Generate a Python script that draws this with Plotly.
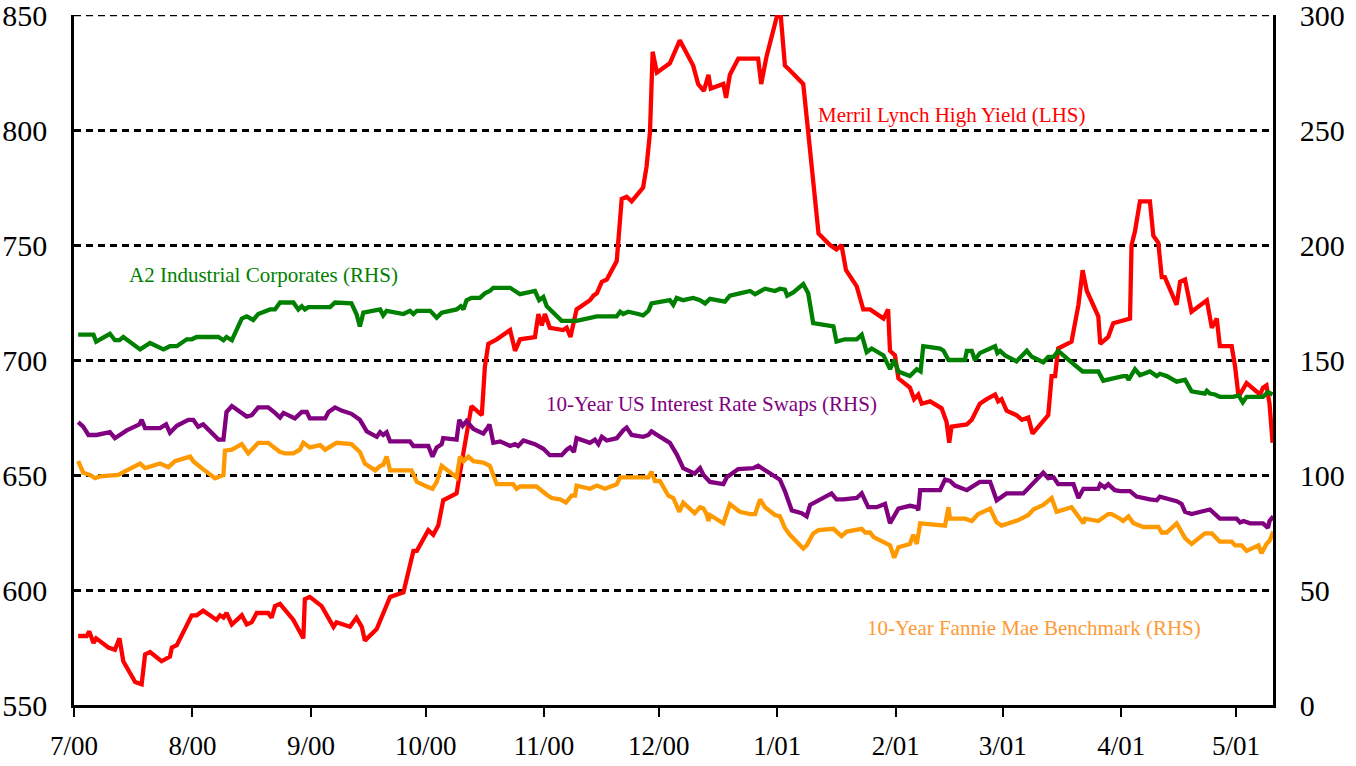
import pandas as pd
import plotly.graph_objects as go

# ---------------- data (days since 2000-07-01, values) ----------------
BASE_DATE = "2000-07-01"

hy_days = [1.1, 3.3, 4, 5.1, 5.8, 9, 10.7, 11.9, 12.9, 16, 17.7, 18.6, 19.9, 22.9, 25.1, 25.6, 26.9, 30.8, 32.1, 33.8,
           37.3, 38.2, 39.1, 39.9, 41.3, 43.9, 45.2, 46.5, 47.8, 50.8, 51.7, 52.6, 53.9,
           57.4, 60, 60.4, 61.7, 64.8, 67.9, 68.7, 72.2, 73.9, 75.3, 76.1, 79.2, 80.9, 82.7, 86.2, 87, 88.8, 89.7, 92.7, 94,
           95.3, 96.6, 100.1, 101.4, 102.7, 104, 106.7, 107.5, 108.4,
           110.6, 114.1, 115.4, 116.7, 120.6, 121.5, 122.4, 123.2, 124.5, 128, 128.9, 129.9, 131.5, 135, 135.9, 136.8, 138.1,
           139.4, 142, 143.3, 144.6, 145.9, 148.9, 149.8, 150.7, 151.4, 152.5, 155.9, 158.5, 162, 163.3,
           163.8, 164.8, 166, 166.6, 169.9, 170.6, 171.6, 173.8, 179, 179.8, 181.2, 184, 184.9, 186, 187.3, 190.8, 192.1,
           193.4, 194.8, 197.8, 199.5, 200.8, 202, 204.8, 206.5, 208.3, 211.8, 213, 213.5, 214.8, 215.7, 218.7,
           219.8, 220.9, 221.8, 224, 227, 228.3, 229, 229.6, 233.6, 234.9, 237, 238.8, 241, 241.8, 242.7, 244, 246.6, 248,
           249.7, 250.8, 252.7, 254.9, 255.8, 256.7, 257.5, 261, 262.8, 263.9, 265, 268, 268.5, 270.6, 271.9, 273.7,
           274.5, 276.3, 276.7, 277.6, 278.9, 281.5, 282.4, 283.7, 284.6, 285.4, 288.5, 289.4, 290.7, 292.4, 296.4, 297.7,
           299, 299.8, 302.9, 303.8, 304.7, 306.8, 310.3, 311.1, 312, 312.8, 313.6]
hy_vals = [580, 580, 582, 577, 579, 575, 574, 579, 569, 560, 559, 572, 573, 569, 571, 575, 576, 589, 589, 591,
           587, 589, 588, 590, 585, 589, 585, 586, 590, 590, 588, 593, 594,
           587, 579, 596, 597, 593, 584, 586, 584, 588, 584, 578, 583, 590, 597, 599, 604, 617, 617, 626, 624,
           628, 639, 642, 655, 668, 680, 676, 697, 707,
           709, 713, 704, 709, 710, 720, 715, 720, 714, 713, 714, 710, 722, 726, 728, 729, 734,
           735, 743, 770, 771, 769, 775, 784, 799, 834, 825, 829, 839, 828, 820,
           819, 817, 824, 818, 820, 814, 824, 831, 831, 820, 832, 850, 850, 828, 826, 820, 799,
           779, 755, 750, 748, 750, 739, 732, 722, 722, 718, 722, 704, 702, 692, 688,
           683, 685, 681, 682, 679, 673, 664, 671, 672, 674, 681, 683, 685, 682, 683, 678, 676, 674,
           675, 668, 672, 676, 693, 693, 705, 708, 724, 739, 730, 719, 707, 710, 716, 717,
           717, 718, 750, 756, 769, 769, 754, 751, 736, 736, 724, 734, 735, 721, 726, 714,
           718, 706, 706, 697, 684, 690, 685, 688, 689, 681, 664]

a2_days = [1.1, 5.1, 5.8, 9.4, 10.7, 11.9, 12.9, 17.3, 19.9, 23.4, 25.1, 26.9, 29.5, 30.8, 32.1, 37.8, 39.1, 39.9, 41.3,
           43.9, 45.2, 46.9, 48.2, 51.3, 52.6, 53.9,
           55.2, 57.4, 58.7, 59.6, 60.4, 61.3, 67, 68.3, 72.6, 73.9, 74.8, 75.7, 80.1, 80.9, 81.8, 86.2, 87.9, 88.8, 89.7,
           93.2, 94.9, 96.2, 100.1, 101.2, 101.9, 102.7, 104, 106.2, 107.5, 108.8,
           109.7, 114.1, 116.7, 120.6, 121.7, 122.8, 123.7, 127.6, 131.5, 136.8, 142, 142.9, 143.7, 145, 147.6, 148.9,
           150.3, 151.1, 155.9, 156.8, 157.7, 159.4, 162, 163.8,
           165.1, 166.4, 170.3, 171.6, 174.2, 176.9, 178.2, 180.8, 183.4, 184.7, 186, 186.6, 188.2, 190.8, 192.1, 193.4,
           198.7, 199.5, 201.7, 204.8, 206.1, 207.4, 208.7, 211.8, 213.5, 214.6, 215.7, 218.7,
           220.5, 221.5, 222.2, 226.6, 227.5, 228.8, 233.1, 233.6, 234.9, 235.7, 237, 241, 241.6, 242.3, 243.6, 246.6,
           249.3, 250.6, 253.6, 254.9, 256.3, 257.5, 261, 263.9, 268, 269.3, 271.9, 273.7,
           274.5, 275.4, 275.9, 277.6, 278.9, 281.5, 283.3, 284.1, 285.9, 288.5, 290.7, 292.4, 295.9, 296.4, 297.2, 298.5,
           299.8, 303.3, 304.7, 305.8, 306.8, 311.1, 312.4, 313.6]
a2_vals = [161, 161, 158, 161.4, 158.6, 158.6, 160, 154.6, 157.4, 154.6, 156, 156, 159, 159, 160, 160, 158.6, 160, 158.6,
           168, 169, 167.4, 170, 172, 172, 175,
           175, 175, 172, 173.4, 172, 173, 173, 175, 174.6, 170, 164.6, 170.6, 172, 169.4, 171.4, 170, 171.4, 170, 171.4,
           171.4, 168.4, 170.6, 172, 173.4, 172, 176, 177, 177, 179, 180,
           181.4, 181.4, 178.6, 180, 176, 177.4, 173.4, 167, 167, 169, 169, 171, 170, 171, 170, 169.4,
           171.4, 174.6, 176, 174, 177, 176, 177, 176,
           174.6, 176.6, 175.4, 178, 179, 180, 178.6, 181, 180, 181, 180.6, 178, 179.4, 183, 179, 166,
           164.6, 158, 159, 159, 161, 153.4, 155, 152, 146, 150, 145, 143,
           146, 145, 156, 155, 154, 150, 150, 154, 154, 150, 153, 156, 153, 154, 152, 149.4,
           154, 151.4, 149, 151.4, 151.4, 154, 149, 145, 145, 141, 142, 143,
           143, 143, 141.4, 146, 143.4, 145, 143, 144, 143, 140.6, 141.4, 136.4, 135.4, 136.6, 135.4, 135,
           134, 134, 134.6, 131.6, 134, 134, 136, 135]

swap_days = [1.1, 2.4, 3.8, 5.9, 9.4, 10.7, 13.8, 17.1, 17.7, 18.6, 22.5, 24.1, 25.1, 26.9, 29.9, 31.2, 32.5, 33.8, 37.8,
             39.1, 39.9, 41.3, 45.2, 46.5, 48.2, 50.8, 52.6, 53.9,
             54.8, 57.8, 59.6, 60.9, 61.7, 65.7, 66.6, 68.3, 70, 72.6, 74.8, 76.6, 79.2, 80.1, 80.9, 81.8, 82.7, 87.9,
             88.8, 92.7, 93.8, 94.9, 96.2, 96.6, 100.1, 100.8, 101.7, 102.7, 104.5, 107.1, 108.4,
             108.7, 109.7, 111.5, 114.1, 115.4, 116.2, 117.6, 120.6, 122.8, 124.5, 127.6, 128.9, 129.8, 130.8, 131.5,
             135, 136.3, 137.2, 138.1, 139.4, 142, 143.7, 144.6, 145.9, 148.9, 150.3, 151.1, 152, 155.9, 157.7,
             159.4, 162.4, 163.8,
             164.7, 166.4, 169.9, 170.8, 173.8, 177.7, 179, 180, 183.4, 184.7, 186, 187.8, 190.4, 191.7, 192.6, 194.8,
             198.2, 199.5, 201.3, 204.8, 206.1, 207.8, 210, 212.2, 213.5, 215.7, 218.7,
             220.5, 220.9, 221.4, 226.6, 227.9, 229.2, 230.5, 233.6, 237, 239.7, 241.4, 242.3, 244, 248.4, 250.1, 253.6,
             254.9, 256.3, 257.5, 261.5, 262.8, 264.1, 268, 268.5, 269.7, 270.6, 272.3, 273.7,
             276.3, 278, 281.5, 283.3, 284.1, 285.4, 288.5, 289.8, 290.7, 292.4, 295.9, 297.2, 299.8, 304.2, 305.1, 306,
             307.7, 311.1, 312.4, 312.8, 313.8]
swap_vals = [123, 121, 117.4, 117.4, 118.6, 116, 119.4, 122, 124, 120.4, 120.4, 122, 118.4, 121.4, 124, 124, 121, 122, 115.4,
             115.4, 127.4, 130, 125.4, 126, 129.4, 129.4, 127, 125,
             127, 124.6, 127.4, 127.4, 124.6, 124.6, 127.4, 129.4, 128, 126.6, 124, 119, 116.6, 118.6, 117.4, 118.6, 114.6, 114.6,
             112.6, 112.6, 108, 112, 113.4, 116, 115.4, 124, 121.4, 123.4, 120, 118, 121,
             122, 114, 114.6, 112.6, 113.4, 112.6, 115, 113.4, 111.4, 108.6, 108.6, 111, 112, 110, 116,
             114, 115.4, 113.4, 116.6, 115, 116, 119.4, 120.6, 117.4, 116.6, 117.4, 119, 118, 114, 109,
             103, 100.6, 103,
             100, 97, 96, 99, 102.6, 103, 104, 103, 99.4, 98, 93, 84.6, 83.4, 82, 87, 89,
             92, 89.4, 89.4, 90, 92, 86, 86, 87.4, 79, 85.4, 86.6,
             86, 84.6, 93.4, 93.4, 98, 97.4, 95.4, 93.4, 97, 97, 89, 90, 92, 92, 95, 101,
             98.6, 99, 96, 96, 90, 94, 94, 96, 94.6, 96, 93.4, 93,
             93, 90.6, 89.4, 89, 90.6, 90, 88.6, 87.4, 84, 83, 84.6, 85, 81, 81, 79.4, 80,
             79, 79, 77, 80, 82]

fnma_days = [1.1, 2.4, 4.2, 5.5, 6.8, 11.6, 13.8, 17.3, 18.6, 20.3, 22.5, 24.7, 26.4, 30.4, 31.2, 33.4, 36.9, 39.1, 39.5,
             41.3, 43.9, 45.6, 48.2, 50.8, 52.6, 53.9,
             55.2, 57.4, 59.1, 60, 61.7, 64.4, 65.7, 68.7, 72.6, 74.8, 76.1, 78.8, 80.1, 80.9, 81.8, 82.7, 88.3, 89.7,
             92.3, 93.8, 94.9, 96.2, 100.1, 101, 101.9, 103.2, 104.5, 107.1, 108.8,
             110.6, 114.9, 115.8, 116.7, 121, 123.7, 125, 127.2, 128.7, 130.2, 131.1, 131.5, 135, 136.8, 138.9, 142,
             142.9, 150.3, 151.1, 152, 153.3, 155.5, 156.8, 158.4, 159.4, 162.4, 163.8,
             164.7, 165.5, 166, 166.4, 169.9, 171.6, 174.2, 176.9, 178.2, 179.5, 180.8, 183.4, 184.7, 186, 187.3, 190.8,
             191.7, 193.4, 194.8, 198.7, 200.8, 202.2, 206.1, 207, 208.3, 209.2, 213.5, 214.6, 215.7, 218.7,
             219.6, 220.5, 221.4, 226.6, 227.9, 228.8, 229.2, 233.1, 234.9, 236.6, 239.7, 241.4, 242.7, 247.1, 249.7, 251,
             253.6, 255.8, 257.1, 261, 264.1, 264.5, 268, 270.6, 271.5, 273.7,
             274.5, 275.9, 277.2, 279.8, 283.7, 284.6, 285.9, 288.5, 290.7, 292.4, 295.9, 297.7, 299.8, 302.9, 303.8, 305.5,
             306.8, 309.9, 310.7, 312, 312.8, 313.8]
fnma_vals = [106, 101, 100, 98.6, 99.4, 100, 102, 105, 103, 104, 105, 103.4, 106, 108, 106, 103, 98.6, 100, 110.6,
             111, 113.4, 109.4, 114, 114, 112, 110,
             109.4, 109.4, 111, 114, 112, 113, 111, 114, 113.4, 110, 105, 102, 104, 104.4, 108, 102, 102, 97,
             95, 94, 97, 104, 99, 108, 106, 108, 106, 105.4, 104,
             96, 96, 94, 95, 95, 91.4, 90, 89.4, 88, 91, 91, 95.4, 94, 95.4, 94, 96,
             99, 99, 101.4, 97.4, 97.4, 91, 90, 84, 88, 83.4, 86,
             85.4, 83, 80, 82.6, 79, 87.4, 84, 83, 83, 89.4, 86, 82.6, 82, 77, 74, 68,
             69.4, 74.6, 76, 76.6, 73.4, 75.4, 76.6, 75, 75, 73, 69.4, 64, 68.6, 70,
             74, 70, 79, 78, 78, 86, 81, 81, 80, 83, 85.4, 79.4, 78, 80.4, 82.6, 85,
             87, 90, 84, 86, 79, 81, 80, 83, 83, 81,
             80, 82, 79, 77.4, 77.4, 75, 75, 79, 72.6, 70, 74.6, 74.6, 71, 71, 69.4, 69.4,
             67, 69.4, 66, 70, 71.4, 75.4]

month_ticks = ["2000-07-01", "2000-08-01", "2000-09-01", "2000-10-01", "2000-11-01", "2000-12-01",
               "2001-01-01", "2001-02-01", "2001-03-01", "2001-04-01", "2001-05-01"]
month_labels = ["7/00", "8/00", "9/00", "10/00", "11/00", "12/00", "1/01", "2/01", "3/01", "4/01", "5/01"]
lhs_ticks = [550, 600, 650, 700, 750, 800, 850]
rhs_ticks = [0, 50, 100, 150, 200, 250, 300]

series_names = ["Merril Lynch High Yield (LHS)", "A2 Industrial Corporates (RHS)",
                "10-Year US Interest Rate Swaps (RHS)", "10-Year Fannie Mae Benchmark (RHS)"]

# ---------------- figure ----------------
base = pd.Timestamp(BASE_DATE)


def to_dates(days):
    return [base + pd.Timedelta(days=float(d)) for d in days]


FONT = "Liberation Serif, Times New Roman, serif"
RED, GREEN, PURPLE, ORANGE = "#FF0000", "#008000", "#800080", "#FF9900"
LW = 4.3
GRID_DASH = "7px,5px"

fig = go.Figure()
fig.add_trace(go.Scatter(x=to_dates(hy_days), y=hy_vals, mode="lines", name=series_names[0],
                         line=dict(color=RED, width=LW), yaxis="y"))
fig.add_trace(go.Scatter(x=to_dates(a2_days), y=a2_vals, mode="lines", name=series_names[1],
                         line=dict(color=GREEN, width=LW), yaxis="y2"))
fig.add_trace(go.Scatter(x=to_dates(swap_days), y=swap_vals, mode="lines", name=series_names[2],
                         line=dict(color=PURPLE, width=LW), yaxis="y2"))
fig.add_trace(go.Scatter(x=to_dates(fnma_days), y=fnma_vals, mode="lines", name=series_names[3],
                         line=dict(color=ORANGE, width=LW), yaxis="y2"))

label_specs = [
    (series_names[0], "2001-02-15 16:00", 806.5, RED),
    (series_names[1], "2000-08-19 12:00", 737, GREEN),
    (series_names[2], "2000-12-14 22:00", 681, PURPLE),
    (series_names[3], "2001-03-09 05:00", 583.5, "#FF9933"),
]
for text, xd, yv, col in label_specs:
    fig.add_annotation(x=xd, y=yv, xref="x", yref="y", text=text, showarrow=False,
                       font=dict(family=FONT, size=21, color=col), xanchor="center", yanchor="middle")

# dashed gridline along the top edge (850), which plotly omits at the range boundary
fig.add_shape(type="line", xref="paper", x0=0, x1=1, yref="y", y0=850, y1=850,
              line=dict(color="black", width=2.5, dash=GRID_DASH), layer="below")

axis_line = dict(showline=True, linecolor="black", linewidth=2.5, zeroline=False,
                 automargin=False, ticklabeloverflow="allow")

fig.update_layout(
    width=1356, height=766,
    margin=dict(l=74, r=83, t=15, b=61, autoexpand=False),
    paper_bgcolor="white", plot_bgcolor="white",
    showlegend=False,
    font=dict(family=FONT, color="black"),
    xaxis=dict(type="date", range=["2000-07-01", "2001-05-10 17:00"],
               tickmode="array", tickvals=month_ticks, ticktext=month_labels,
               ticks="outside", ticklen=9, tickwidth=2, tickcolor="black",
               showgrid=False, tickfont=dict(family=FONT, size=27, color="black"),
               ticklabelstandoff=6, **axis_line),
    yaxis=dict(range=[550, 850], tickmode="array", tickvals=lhs_ticks,
               showgrid=True, gridcolor="black", gridwidth=2.5, griddash=GRID_DASH,
               ticks="", tickfont=dict(family=FONT, size=30, color="black"),
               ticklabelstandoff=18, **axis_line),
    yaxis2=dict(range=[0, 300], overlaying="y", side="right", tickmode="array", tickvals=rhs_ticks,
                showgrid=False, ticks="", tickfont=dict(family=FONT, size=30, color="black"),
                ticklabelstandoff=18, **axis_line),
)

fig.write_html("out.html",
               config={"displayModeBar": False},
               post_script="document.body.style.margin='0';document.body.style.overflow='hidden';")
